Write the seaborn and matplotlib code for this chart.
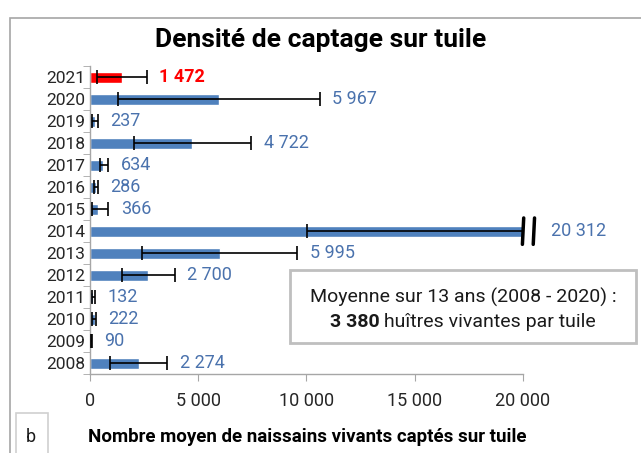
import matplotlib
matplotlib.use('Agg')
import matplotlib.pyplot as plt
from matplotlib.patches import Rectangle
from matplotlib.ticker import FuncFormatter, FixedLocator
import numpy as np
import pandas as pd
import seaborn as sns

# données
years = ['2021', '2020', '2019', '2018', '2017', '2016', '2015',
         '2014', '2013', '2012', '2011', '2010', '2009', '2008']
mean_density = [1472, 5967, 237, 4722, 634, 286, 366,
                20312, 5995, 2700, 132, 222, 90, 2274]
err_low = [320, 1320, 90, 2040, 470, 190, 100,
           10040, 2420, 1510, 90, 90, 40, 940]
# 2014 : borne haute hors échelle, coupée à 20 000
err_high = [2640, 10620, 380, 7450, 850, 380, 850,
            20000, 9570, 3920, 230, 280, 110, 3580]

title = 'Densité de captage sur tuile'
xlabel = 'Nombre moyen de naissains vivants captés sur tuile'
note_line1 = 'Moyenne sur 13 ans (2008 - 2020) :'
note_bold = '3 380'
note_rest = 'huîtres vivantes par tuile'
xticks = [0, 5000, 10000, 15000, 20000]

BLUE = '#4f81bd'
RED = '#ff0000'
LABEL_BLUE = '#4a72ad'
GREY = '#a6a6a6'

sns.set_style('white')
plt.rcParams['font.family'] = ['Roboto', 'DejaVu Sans']


def fmt_num(v, pos=None):
    return '{:,}'.format(int(v)).replace(',', ' ')


df = pd.DataFrame({'year': years, 'val': mean_density})
colors = [RED if y == '2021' else BLUE for y in years]

fig = plt.figure(figsize=(6.41, 4.53), dpi=100)
ax = fig.add_axes([0.140, 0.174, 0.676, 0.680])

sns.barplot(data=df, x='val', y='year', hue='year', palette=colors,
            order=years, orient='h', width=0.5, saturation=1,
            legend=False, ax=ax)

pos = np.arange(len(years))
xbar = np.minimum(np.array(mean_density), 20000)
ax.errorbar(xbar, pos,
            xerr=[xbar - np.array(err_low), np.array(err_high) - xbar],
            fmt='none', ecolor='black', elinewidth=1.2, capsize=5,
            capthick=1.2, clip_on=False, zorder=3)

ax.set_xlim(0, 20000)
ax.set_ylim(len(years) - 0.5, -0.5)

# marques de coupure pour 2014
i14 = years.index('2014')
for xb in (20000, 20500):
    ax.plot([xb + 30, xb - 30], [i14 - 0.6, i14 + 0.6], color='black',
            lw=2.5, clip_on=False, zorder=4)

# étiquettes de valeurs
for i, (v, h) in enumerate(zip(mean_density, err_high)):
    is21 = years[i] == '2021'
    xa = min(max(v, h), 20000)
    off = 20 if v > 20000 else 9
    ax.annotate(fmt_num(v), (xa, i), xytext=(off, 0),
                textcoords='offset points', va='center', ha='left',
                fontsize=13, color=RED if is21 else LABEL_BLUE,
                fontweight='bold' if is21 else 'normal',
                annotation_clip=False)

# axes style Excel
for s in ['top', 'right']:
    ax.spines[s].set_visible(False)
for s in ['left', 'bottom']:
    ax.spines[s].set_color(GREY)
    ax.spines[s].set_linewidth(1.0)
ax.set_xticks(xticks)
ax.xaxis.set_major_formatter(FuncFormatter(fmt_num))
ax.tick_params(axis='x', length=5, color=GREY, labelsize=13,
               labelcolor='#262626', pad=8, direction='out', bottom=True)
ax.tick_params(axis='y', which='major', length=0, labelsize=12.5,
               labelcolor='#262626', pad=3)
ax.yaxis.set_minor_locator(FixedLocator(np.arange(-0.5, len(years), 1)))
ax.tick_params(axis='y', which='minor', length=5, color=GREY, left=True,
               direction='out')
ax.set_xlabel('')
ax.set_ylabel('')

# titre
fig.text(0.5, 1 - 40 / 453, title, ha='center', va='center',
         fontsize=19, fontweight='bold', color='black')

# cadre extérieur
fig.patches.append(Rectangle((10 / 641, -0.05), 1.2, 1 - 18 / 453 + 0.05,
                             transform=fig.transFigure, fill=False,
                             edgecolor=GREY, lw=1.2))

# encadré moyenne
fig.patches.append(Rectangle((290 / 641, 1 - 343 / 453), 346 / 641, 73 / 453,
                             transform=fig.transFigure, facecolor='white',
                             edgecolor='#bfbfbf', lw=2, zorder=5))
cx = 463 / 641
fig.text(cx, 1 - 297 / 453, note_line1, ha='center', va='center',
         fontsize=14, color='#1a1a1a', zorder=6)
t1 = fig.text(cx, 1 - 322 / 453, note_bold, ha='left', va='center',
              fontsize=14, fontweight='bold', color='#1a1a1a', zorder=6)
t2 = fig.text(cx, 1 - 322 / 453, ' ' + note_rest, ha='left', va='center',
              fontsize=14, color='#1a1a1a', zorder=6)
fig.canvas.draw()
r = fig.canvas.get_renderer()
w1 = t1.get_window_extent(r).width / fig.bbox.width
w2 = t2.get_window_extent(r).width / fig.bbox.width
x0 = cx - (w1 + w2) / 2
t1.set_x(x0)
t2.set_x(x0 + w1)

# petite case "b" et libellé de l'axe
fig.patches.append(Rectangle((16 / 641, -0.05), 32 / 641, 1 - 413 / 453 + 0.05,
                             transform=fig.transFigure, facecolor='white',
                             edgecolor='#d0d0d0', lw=1.2))
fig.text(31 / 641, 1 - 437 / 453, 'b', ha='center', va='center',
         fontsize=13, color='#1a1a1a')
fig.text(88 / 641, 1 - 437 / 453, xlabel, ha='left', va='center',
         fontsize=13.5, fontweight='bold', color='black')

plt.savefig('out.png', dpi=100)
